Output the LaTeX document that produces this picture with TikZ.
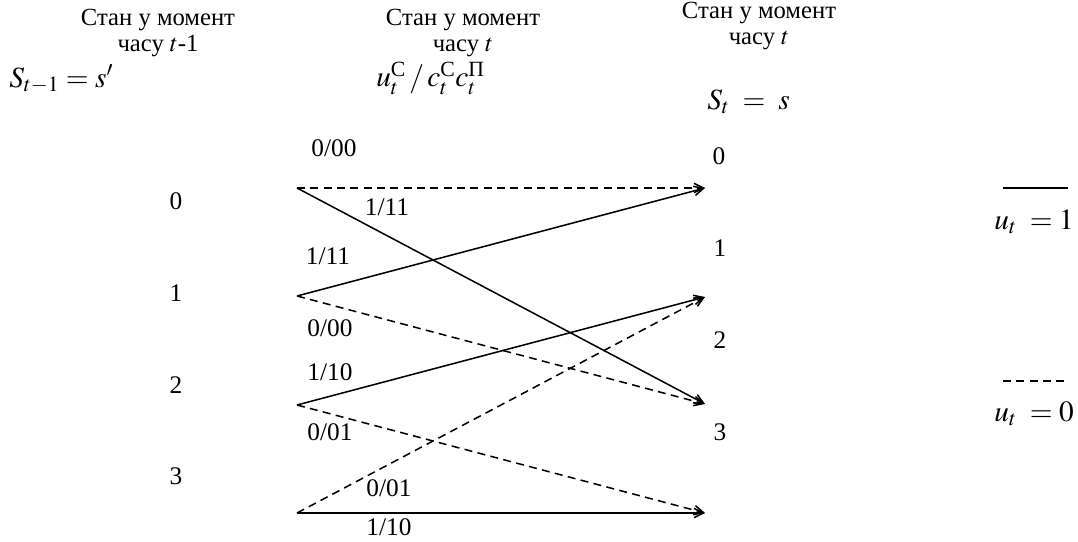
\documentclass[tikz,border=0pt]{standalone}
\usepackage{amsmath}
\usepackage{mathptmx}
\usepackage{fontspec}
\setmainfont{Liberation Serif}
\usetikzlibrary{arrows.meta}

\begin{document}
\begin{tikzpicture}[
  x=0.75pt, y=-0.75pt,
  head/.style={font=\fontsize{18.5}{19.5}\selectfont, align=center, inner sep=0pt, anchor=base},
  frm/.style={font=\fontsize{22}{24}\selectfont, inner sep=0pt},
  lbl/.style={font=\fontsize{19}{20}\selectfont, inner sep=0pt},
  one/.style={-{Straight Barb[length=7pt,width=7pt]}, line width=1.15pt},
  zero/.style={one, dash pattern=on 6pt off 4pt}
]
\useasboundingbox (0,0) rectangle (1078,542);

% headers
\node[head] (hprev) at (158,52) {Стан у момент\\часу $t$-1};
\node[head] (hout) at (463,52) {Стан у момент\\часу $t$};
\node[head] (hnext) at (759,45) {Стан у момент\\часу $t$};
\node[frm, anchor=west] (sprev) at (9,79) {$S_{t-1}=s'$};
\node[frm, anchor=west] (uc) at (376,78) {$u_t^{\text{С}}\,/\,c_t^{\text{С}}c_t^{\text{П}}$};
\node[frm, anchor=west] (snext) at (707,102) {$S_t\;=\;s$};

% states
\node[lbl] (sl0) at (176,201) {0};
\node[lbl] (sl1) at (176,293) {1};
\node[lbl] (sl2) at (176,385) {2};
\node[lbl] (sl3) at (176,476) {3};
\node[lbl] (sr0) at (719,156) {0};
\node[lbl] (sr1) at (720,248) {1};
\node[lbl] (sr2) at (720,340) {2};
\node[lbl] (sr3) at (720,432) {3};

\coordinate (l0) at (297,188);
\coordinate (l1) at (297,296);
\coordinate (l2) at (297,405);
\coordinate (l3) at (297,513);
\coordinate (r0) at (705,188);
\coordinate (r1) at (705,297);
\coordinate (r2) at (705,404);
\coordinate (r3) at (705,513);

% transitions
\draw[zero] (l0) -- (r0);
\draw[one] (l0) -- (r2);
\draw[one] (l1) -- (r0);
\draw[zero] (l1) -- (r2);
\draw[one] (l2) -- (r1);
\draw[zero] (l2) -- (r3);
\draw[zero] (l3) -- (r1);
\draw[one] (l3) -- (r3);

\node[lbl] (e00) at (334,148) {0/00};
\node[lbl] (e02) at (387,207) {1/11};
\node[lbl] (e10) at (328,256) {1/11};
\node[lbl] (e12) at (330,328) {0/00};
\node[lbl] (e21) at (330,372) {1/10};
\node[lbl] (e23) at (330,432) {0/01};
\node[lbl] (e31) at (389,488) {0/01};
\node[lbl] (e33) at (389,527) {1/10};

% legend
\coordinate (lga) at (1003,188);
\coordinate (lgb) at (1068,188);
\coordinate (lgc) at (1003,381);
\coordinate (lgd) at (1068,381);
\draw[line width=1.15pt] (lga) -- (lgb);
\draw[line width=1.15pt, dash pattern=on 6pt off 4pt] (lgc) -- (lgd);
\node[frm, anchor=east] (u1) at (1074,222) {$u_t\;=1$};
\node[frm, anchor=east] (u0) at (1074,414) {$u_t\;=0$};
\end{tikzpicture}
\end{document}
